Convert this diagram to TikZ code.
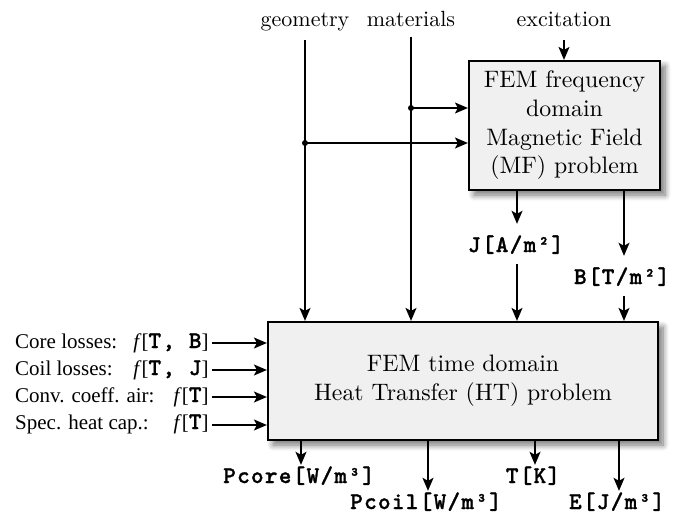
\documentclass[tikz,border=0pt]{standalone}
\usepackage{fontspec}
\setmainfont{lmroman10-regular}[Extension=.otf,ItalicFont=lmroman10-italic,BoldFont=lmroman10-bold]
\newfontfamily\tnr{Liberation Serif}
\newfontfamily\cour{lmmonolt10-bold}[Extension=.otf,FakeBold=1.2,LetterSpace=5.4]
\usetikzlibrary{arrows.meta,shadows.blur}
\definecolor{boxfill}{RGB}{240,240,240}
\begin{document}
\begin{tikzpicture}[x=1pt,y=-1pt,
  arr/.style={line width=1.5pt,-{Stealth[length=13pt,width=11pt,inset=3pt]}},
  box/.style={draw,line width=2.2pt,fill=boxfill,
    blur shadow={shadow xshift=5pt,shadow yshift=-5pt,shadow blur radius=6pt,shadow blur steps=8,shadow opacity=55}},
  toplbl/.style={inner sep=0pt,anchor=base,font=\fontsize{22}{26}\selectfont},
  boxtxt/.style={font=\fontsize{23.8}{28.7}\selectfont,align=center},
  monof/.style={font=\fontsize{24}{28}\selectfont\cour},
  midlbl/.style={monof,anchor=base,inner sep=0pt,text height=28pt,text depth=12pt},
  outlbl/.style={monof,anchor=base,inner sep=0pt,text height=18pt,text depth=5pt},
  rowlbl/.style={font=\fontsize{21}{25}\selectfont\tnr,inner sep=0pt},
  fbox/.style={font=\fontsize{21}{25}\selectfont\tnr,inner xsep=0pt,outer xsep=3.5pt,inner ysep=0pt},
  dot/.style={circle,fill,inner sep=0pt,minimum size=6pt}]
\useasboundingbox (0,0) rectangle (679,516);

% top labels
\node[toplbl] (geo) at (305,27) {geometry};
\node[toplbl] (mat) at (411,27) {materials};
\node[toplbl] (exc) at (564,27) {excitation};

% MF box
\node[box,boxtxt,minimum width=191pt,minimum height=129pt,inner sep=0pt] (MF) at (564.5,125.5)
  {FEM frequency\\domain\\Magnetic Field\\(MF) problem};

% HT box
\node[box,boxtxt,minimum width=390pt,minimum height=118pt,inner sep=0pt] (HT) at (463,381)
  {FEM time domain\\Heat Transfer (HT) problem};

% geometry / materials lines
\coordinate (g0) at (305,40);
\coordinate (m0) at (411,37);
\coordinate (e0) at (564,40);
\coordinate (md) at (411,108);
\coordinate (gd) at (305,143);
\draw[arr] (g0) -- (g0 |- HT.north);
\draw[arr] (m0) -- (m0 |- HT.north);
\draw[arr] (e0) -- (e0 |- MF.north);
\draw[arr] (md) -- (md -| MF.west);
\draw[arr] (gd) -- (gd -| MF.west);
\node[dot] (mdot) at (md) {};
\node[dot] (gdot) at (gd) {};

% J and B
\node[midlbl] (J) at (516,252) {J[A/m²]};
\node[midlbl] (B) at (622,284) {B[T/m²]};
\draw[arr] (MF.south -| 517,0) -- (J.north -| 517,0);
\draw[arr] (J.south -| 517,0) -- (HT.north -| 517,0);
\draw[arr] (MF.south -| 624,0) -- (B.north -| 624,0);
\draw[arr] (B.south -| 624,0) -- (HT.north -| 624,0);

% left inputs
\node[rowlbl,anchor=base west] (l1) at (15,348) {Core losses:};
\node[rowlbl,anchor=base west] (l2) at (15,375) {Coil losses:};
\node[rowlbl,anchor=base west] (l3) at (15,402) {Conv. coeff. air:};
\node[rowlbl,anchor=base west] (l4) at (15,429) {Spec. heat cap.:};
\node[fbox,anchor=base east] (f1) at (212,348) {\textit{f}[{\fontsize{24}{28}\selectfont\cour T, B}]};
\node[fbox,anchor=base east] (f2) at (212,375) {\textit{f}[{\fontsize{24}{28}\selectfont\cour T, J}]};
\node[fbox,anchor=base east] (f3) at (212,402) {\textit{f}[{\fontsize{24}{28}\selectfont\cour T}]};
\node[fbox,anchor=base east] (f4) at (212,429) {\textit{f}[{\fontsize{24}{28}\selectfont\cour T}]};
\foreach \i/\y in {1/343,2/370,3/397,4/425}{
  \draw[arr] (f\i.east |- 0,\y) -- (HT.west |- 0,\y);
}

% outputs
\node[outlbl] (pcore) at (299,483) {Pcore[W/m³]};
\node[outlbl] (pcoil) at (426,509) {Pcoil[W/m³]};
\node[outlbl] (tk) at (533,483) {T[K]};
\node[outlbl] (ej) at (617,509) {E[J/m³]};
\draw[arr] (HT.south -| 301,0) -- (pcore.north -| 301,0);
\draw[arr] (HT.south -| 428,0) -- (pcoil.north -| 428,0);
\draw[arr] (HT.south -| 535,0) -- (tk.north -| 535,0);
\draw[arr] (HT.south -| 619,0) -- (ej.north -| 619,0);
\end{tikzpicture}
\end{document}
